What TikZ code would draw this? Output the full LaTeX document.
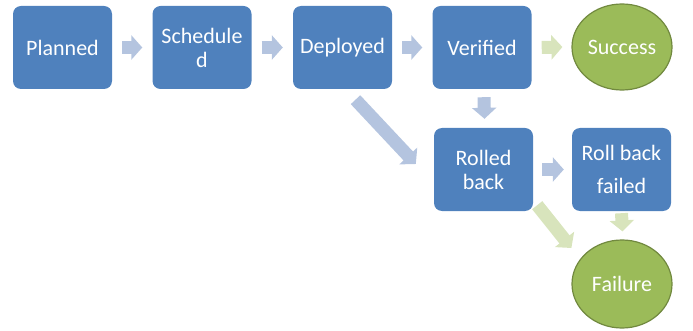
\documentclass[tikz,border=0pt]{standalone}
\usepackage{fontspec}
\setmainfont{Carlito}
\usetikzlibrary{arrows.meta,shapes.geometric,backgrounds}
\definecolor{boxblue}{HTML}{4F81BD}
\definecolor{ovalgreen}{HTML}{9BBB59}
\definecolor{ovalborder}{HTML}{71893F}
\definecolor{arrowblue}{HTML}{B4C4DF}
\definecolor{arrowgreen}{HTML}{D8E4BC}
\begin{document}
\begin{tikzpicture}[x=1pt,y=-1pt,
  box/.style={fill=boxblue, rounded corners=8pt, minimum width=99pt, minimum height=83pt,
    text=white, align=center, inner sep=0pt, font=\fontsize{22}{24}\selectfont},
  oval/.style={ellipse, fill=ovalgreen, draw=ovalborder, line width=1.2pt,
    minimum width=100pt, minimum height=86pt, inner sep=0pt, text=white,
    font=\fontsize{22}{24}\selectfont},
  blockarrow/.style={line width=13pt, line cap=butt, -{Triangle[width=24pt,length=11pt]}},
  barrow/.style={blockarrow, draw=arrowblue, arrowblue},
  garrow/.style={blockarrow, draw=arrowgreen, arrowgreen}]
\useasboundingbox (0,0) rectangle (693,331);

\node[box] (p) at (62.5,47.5) {Planned};
\node[box] (s) at (202,47.5) {Schedule\\d};
\node[box] (d) at (342.5,47.5) {Deployed};
\node[box] (v) at (482,47.5) {Verified};
\node[oval] (ok) at (622,47) {Success};
\node[box] (rb) at (483.5,169.5) {Rolled\\back};
\node[box, font=\fontsize{22}{33}\selectfont] (rbf) at (621.5,169.5) {Roll back\\failed};
\node[oval, minimum height=88pt] (f) at (622,284) {Failure};

\begin{scope}[on background layer]
\draw[barrow] ([xshift=10pt]p.east) -- ([xshift=-10pt]s.west);
\draw[barrow] ([xshift=10pt]s.east) -- ([xshift=-10pt]d.west);
\draw[barrow] ([xshift=10pt]d.east) -- ([xshift=-10pt]v.west);
\draw[garrow] ([xshift=10pt]v.east) -- ([xshift=-9pt]ok.west);
\draw[barrow] ([xshift=2pt,yshift=-8pt]v.south) -- ([xshift=1pt,yshift=9pt]rb.north);
\draw[barrow] ([xshift=13pt,yshift=-10.5pt]d.south) -- ([xshift=-18pt,yshift=5.5pt]rb.west);
\draw[barrow] ([xshift=9pt]rb.east) -- ([xshift=-8pt]rbf.west);
\draw[garrow] ([xshift=4pt,yshift=6pt]rb.south east) -- ([yshift=36pt]f.west);
\draw[garrow] ([yshift=-2pt]rbf.south) -- ([xshift=0.5pt,yshift=8pt]f.north);
\end{scope}
\end{tikzpicture}
\end{document}
